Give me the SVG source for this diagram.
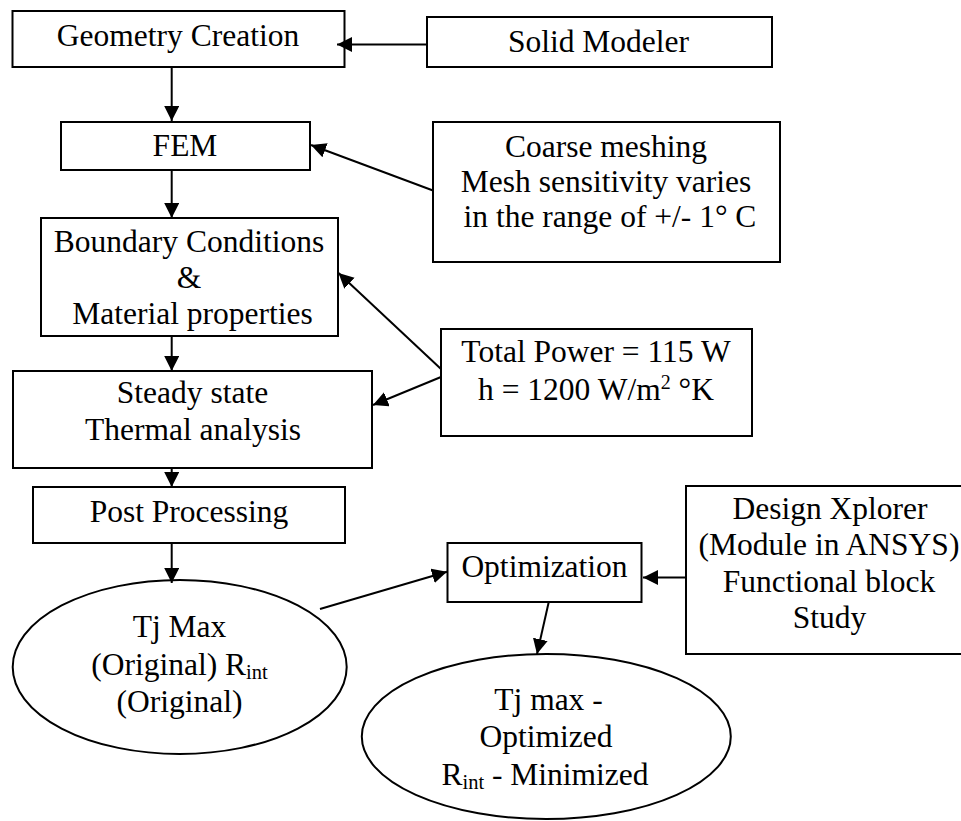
<svg xmlns="http://www.w3.org/2000/svg" width="961" height="821" viewBox="0 0 961 821">
  <style>
    .box { fill: #fff; stroke: #000; stroke-width: 2; }
    .lbl { font-family: "Liberation Serif", "Times New Roman", serif; font-size: 31.5px; fill: #000; text-anchor: middle; }
    .sub { font-size: 20.5px; }
    .sup { font-size: 20px; }
    .wire { stroke: #000; stroke-width: 2; fill: none; marker-end: url(#arrow); }
  </style>
  <defs>
    <marker id="arrow" markerUnits="userSpaceOnUse" markerWidth="16" markerHeight="16" refX="15" refY="7.5" orient="auto">
      <path d="M0,0 L15,7.5 L0,15 z" fill="#000"/>
    </marker>
  </defs>
  <rect width="961" height="821" fill="#fff"/>

  <g id="geometry-creation">
    <rect class="box" x="12.5" y="11" width="332" height="56"/>
    <text class="lbl" x="178" y="45.5">Geometry Creation</text>
  </g>

  <g id="solid-modeler">
    <rect class="box" x="427" y="17" width="345" height="50"/>
    <text class="lbl" x="598.5" y="52">Solid Modeler</text>
  </g>

  <g id="fem">
    <rect class="box" x="61" y="122" width="249" height="48"/>
    <text class="lbl" x="185" y="156">FEM</text>
  </g>

  <g id="coarse-meshing">
    <rect class="box" x="433" y="122" width="347" height="140"/>
    <text class="lbl" x="606" y="156.5">Coarse meshing</text>
    <text class="lbl" x="606" y="191.5">Mesh sensitivity varies</text>
    <text class="lbl" x="610" y="227">in the range of +/- 1° C</text>
  </g>

  <g id="boundary-conditions">
    <rect class="box" x="41" y="218" width="297" height="118"/>
    <text class="lbl" x="189" y="251.5">Boundary Conditions</text>
    <text class="lbl" x="189" y="288">&amp;</text>
    <text class="lbl" x="192.5" y="324">Material properties</text>
  </g>

  <g id="total-power">
    <rect class="box" x="441" y="329" width="311" height="107"/>
    <text class="lbl" x="596" y="361.5">Total Power = 115 W</text>
    <text class="lbl" x="596" y="400">h = 1200 W/m<tspan class="sup" dy="-11">2</tspan><tspan dy="11"> °K</tspan></text>
  </g>

  <g id="steady-state">
    <rect class="box" x="13" y="371" width="359" height="97"/>
    <text class="lbl" x="192.5" y="402.5">Steady state</text>
    <text class="lbl" x="193" y="440">Thermal analysis</text>
  </g>

  <g id="post-processing">
    <rect class="box" x="33" y="487" width="312" height="56"/>
    <text class="lbl" x="189" y="521.5">Post Processing</text>
  </g>

  <g id="tj-max-original">
    <ellipse class="box" cx="179.7" cy="667" rx="167" ry="87"/>
    <text class="lbl" x="179.5" y="637">Tj Max</text>
    <text class="lbl" x="179.5" y="675">(Original) R<tspan class="sub" dy="4">int</tspan></text>
    <text class="lbl" x="179.5" y="711.5">(Original)</text>
  </g>

  <g id="optimization">
    <rect class="box" x="447.5" y="543" width="194" height="59"/>
    <text class="lbl" x="544.5" y="577">Optimization</text>
  </g>

  <g id="design-xplorer">
    <rect class="box" x="686" y="486" width="290" height="168"/>
    <text class="lbl" x="830" y="518.5">Design Xplorer</text>
    <text class="lbl" x="829" y="555">(Module in ANSYS)</text>
    <text class="lbl" x="829" y="591.5">Functional block</text>
    <text class="lbl" x="829.5" y="628">Study</text>
  </g>

  <g id="tj-max-optimized">
    <ellipse class="box" cx="546.3" cy="736.5" rx="184.5" ry="82.5"/>
    <text class="lbl" x="548.5" y="710">Tj max -</text>
    <text class="lbl" x="546" y="746.5">Optimized</text>
    <text class="lbl" x="545" y="785">R<tspan class="sub" dy="4">int</tspan><tspan dy="-4"> - Minimized</tspan></text>
  </g>

  <g id="connectors">
    <line class="wire" x1="427" y1="44.5" x2="337" y2="44.5"/>
    <line class="wire" x1="171.7" y1="67" x2="171.7" y2="121"/>
    <line class="wire" x1="433" y1="190.5" x2="311" y2="145"/>
    <line class="wire" x1="171.7" y1="170" x2="171.7" y2="218"/>
    <line class="wire" x1="441" y1="369" x2="338.5" y2="273"/>
    <line class="wire" x1="441" y1="377" x2="373" y2="405"/>
    <line class="wire" x1="171.7" y1="336" x2="171.7" y2="371"/>
    <line class="wire" x1="171.7" y1="468" x2="171.7" y2="487"/>
    <line class="wire" x1="171.7" y1="543" x2="171.7" y2="583"/>
    <line class="wire" x1="320" y1="609" x2="447" y2="571.7"/>
    <line class="wire" x1="686" y1="577.5" x2="643" y2="577.5"/>
    <line class="wire" x1="548.7" y1="602.3" x2="537" y2="654"/>
  </g>
</svg>
